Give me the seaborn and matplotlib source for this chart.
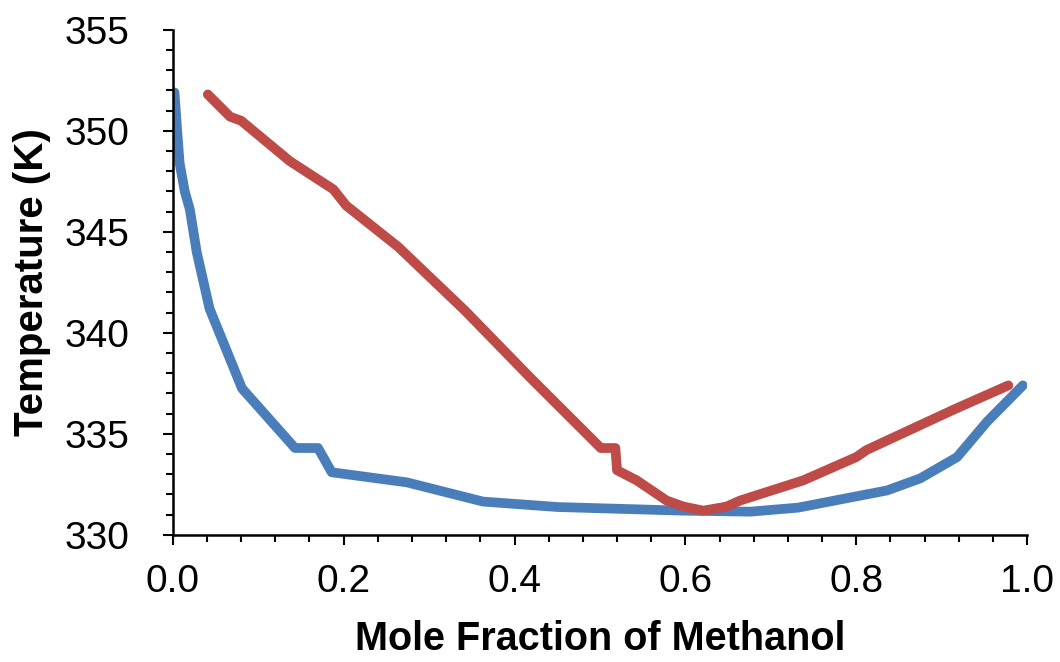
import pandas as pd
import matplotlib.pyplot as plt
import seaborn as sns
from matplotlib.ticker import MultipleLocator

# liquid (bubble) curve - blue
liquid_x = [0.002, 0.005, 0.008, 0.014, 0.020, 0.028, 0.043, 0.081, 0.143, 0.170,
            0.186, 0.274, 0.363, 0.450, 0.597, 0.676, 0.732, 0.793, 0.836, 0.875,
            0.918, 0.953, 0.995]
liquid_t = [351.9, 350.1, 348.4, 347.0, 346.1, 344.0, 341.2, 337.25, 334.3, 334.3,
            333.1, 332.6, 331.65, 331.38, 331.2, 331.15, 331.35, 331.85, 332.2, 332.8,
            333.85, 335.6, 337.4]

# vapour (dew) curve - red
vapour_x = [0.041, 0.067, 0.080, 0.137, 0.188, 0.203, 0.264, 0.342, 0.418, 0.501,
            0.518, 0.520, 0.543, 0.578, 0.598, 0.621, 0.648, 0.664, 0.738, 0.773,
            0.800, 0.812, 0.914, 0.978]
vapour_t = [351.8, 350.7, 350.5, 348.5, 347.1, 346.3, 344.25, 341.1, 337.8, 334.3,
            334.3, 333.2, 332.7, 331.7, 331.4, 331.2, 331.4, 331.7, 332.7, 333.35,
            333.85, 334.2, 336.2, 337.4]

liquid = pd.DataFrame({"x": liquid_x, "T": liquid_t})
vapour = pd.DataFrame({"x": vapour_x, "T": vapour_t})

sns.set_style("ticks")
plt.rcParams["font.family"] = ["Liberation Sans", "DejaVu Sans"]
plt.rcParams["text.color"] = "black"
plt.rcParams["axes.labelcolor"] = "black"
plt.rcParams["xtick.color"] = "black"
plt.rcParams["ytick.color"] = "black"

fig = plt.figure(figsize=(10.6, 6.62), dpi=100)
ax = fig.add_axes([0.163, 0.192, 0.806, 0.763])

sns.lineplot(data=liquid, x="x", y="T", sort=False, color="#4a7ebb", lw=7,
             solid_capstyle="round", ax=ax)
sns.lineplot(data=vapour, x="x", y="T", sort=False, color="#be4b48", lw=7,
             solid_capstyle="round", ax=ax)

ax.set_xlim(0, 1)
ax.set_ylim(330, 355)
ax.xaxis.set_major_locator(MultipleLocator(0.2))
ax.xaxis.set_minor_locator(MultipleLocator(0.04))
ax.yaxis.set_major_locator(MultipleLocator(5))
ax.yaxis.set_minor_locator(MultipleLocator(1))
ax.xaxis.set_major_formatter(plt.FormatStrFormatter("%.1f"))

ax.tick_params(which="major", length=7, width=1.5, labelsize=28)
ax.tick_params(which="minor", length=5, width=1.5)
ax.tick_params(axis="x", which="major", pad=14)
ax.tick_params(axis="y", which="major", pad=24)

for s in ["top", "right"]:
    ax.spines[s].set_visible(False)
for s in ["left", "bottom"]:
    ax.spines[s].set_linewidth(1.8)
    ax.spines[s].set_color("black")

ax.set_xlabel("Mole Fraction of Methanol", fontsize=28.5, fontweight="bold", labelpad=14)
ax.set_ylabel("Temperature (K)", fontsize=29, fontweight="bold", labelpad=10)

fig.savefig("out.png", dpi=100)
